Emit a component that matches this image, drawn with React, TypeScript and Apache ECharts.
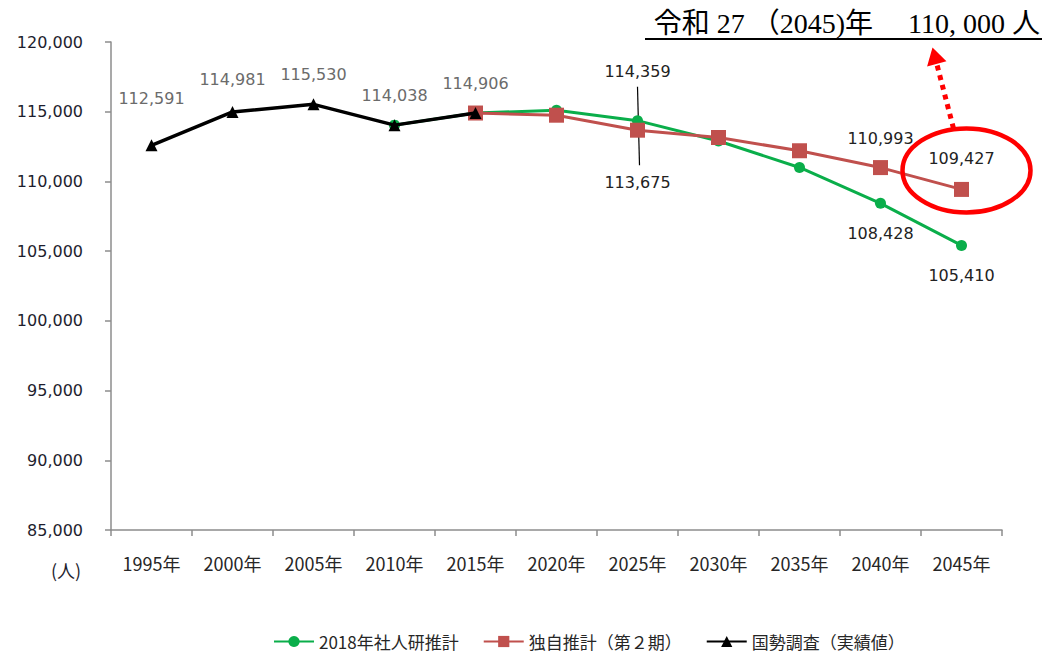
import React, { useEffect, useRef } from "react";
import * as echarts from "echarts";

const years = ["1995年", "2000年", "2005年", "2010年", "2015年", "2020年", "2025年", "2030年", "2035年", "2040年", "2045年"];
const censusValues: (number | null)[] = [112591, 114981, 115530, 114038, 114906, null, null, null, null, null, null];
const ipssValues: (number | null)[] = [null, null, null, 114038, 114906, 115100, 114359, 112900, 111000, 108428, 105410];
const ownValues: (number | null)[] = [null, null, null, null, 114906, 114750, 113675, 113150, 112200, 110993, 109427];

const yTicks = { min: 85000, max: 120000, interval: 5000 };
const targetText = "令和 27 （2045)年　 110, 000 人";

const GREEN = "#0aae4a";
const RED = "#c0504d";
const BLACK = "#000000";
const LABEL_FONT = "'DejaVu Sans', Verdana, sans-serif";
const CJK_FONT = "'Noto Sans CJK JP', 'DejaVu Sans', sans-serif";

const fmt = (v: number) => v.toLocaleString("en-US");

type LabelSpec = { pos: "top" | "bottom"; dist: number; color: string };

function buildData(values: (number | null)[], labels: Record<number, LabelSpec>) {
  return values.map((v, i) => {
    if (v === null) return null;
    const spec = labels[i];
    if (!spec) return { value: v, label: { show: false } };
    return {
      value: v,
      label: {
        show: true,
        position: spec.pos,
        distance: spec.dist,
        color: spec.color,
        fontSize: 16,
        fontFamily: LABEL_FONT,
        formatter: (p: any) => fmt(p.value),
      },
    };
  });
}

export default function App() {
  const ref = useRef<HTMLDivElement>(null);
  useEffect(() => {
    if (!ref.current) return;
    const chart = echarts.init(ref.current, undefined, { renderer: "svg" });
    const gray = "#6b6b6b";
    const dark = "#222222";
    const censusData = buildData(censusValues, {
      0: { pos: "top", dist: 33, color: gray },
      1: { pos: "top", dist: 18, color: gray },
      2: { pos: "top", dist: 16, color: gray },
      3: { pos: "top", dist: 16, color: gray },
      4: { pos: "top", dist: 16, color: gray },
    });
    const ipssData = buildData(ipssValues, {
      6: { pos: "top", dist: 36, color: dark },
      9: { pos: "bottom", dist: 17, color: dark },
      10: { pos: "bottom", dist: 17, color: dark },
    });
    const ownData = buildData(ownValues, {
      6: { pos: "bottom", dist: 37, color: dark },
      9: { pos: "top", dist: 14, color: dark },
      10: { pos: "top", dist: 15, color: dark },
    });

    chart.setOption({
      animation: false,
      backgroundColor: "#ffffff",
      grid: { left: 111, right: 47, top: 42, bottom: 125, containLabel: false },
      legend: {
        left: 273,
        top: 633,
        padding: 0,
        itemWidth: 40,
        itemHeight: 14,
        itemGap: 24,
        textStyle: { color: "#262626", fontSize: 17, fontFamily: CJK_FONT },
        data: ["2018年社人研推計", "独自推計（第２期）", "国勢調査（実績値）"],
      },
      xAxis: {
        type: "category",
        data: years,
        boundaryGap: true,
        axisLine: { show: true, lineStyle: { color: "#8c8c8c", width: 1.5 } },
        axisTick: { show: true, length: 6, lineStyle: { color: "#8c8c8c", width: 1.5 } },
        axisLabel: { color: "#262626", fontSize: 18, fontFamily: CJK_FONT, margin: 24 },
        splitLine: { show: false },
      },
      yAxis: {
        type: "value",
        min: yTicks.min,
        max: yTicks.max,
        interval: yTicks.interval,
        axisLine: { show: true, lineStyle: { color: "#8c8c8c", width: 1.5 } },
        axisTick: { show: true, length: 6, lineStyle: { color: "#8c8c8c", width: 1.5 } },
        axisLabel: {
          color: "#1e1e2e",
          fontSize: 16,
          fontFamily: LABEL_FONT,
          margin: 28,
          formatter: (v: number) => fmt(v),
        },
        splitLine: { show: false },
      },
      series: [
        {
          name: "2018年社人研推計",
          type: "line",
          data: ipssData,
          connectNulls: false,
          symbol: "circle",
          symbolSize: 11,
          lineStyle: { color: GREEN, width: 3 },
          itemStyle: { color: GREEN },
          z: 2,
        },
        {
          name: "独自推計（第２期）",
          type: "line",
          data: ownData,
          symbol: "rect",
          symbolSize: 15,
          lineStyle: { color: RED, width: 3 },
          itemStyle: { color: RED },
          z: 3,
        },
        {
          name: "国勢調査（実績値）",
          type: "line",
          data: censusData,
          symbol: "triangle",
          symbolSize: 12,
          lineStyle: { color: BLACK, width: 3.5 },
          itemStyle: { color: BLACK },
          z: 4,
        },
      ],
    });

    const g25 = chart.convertToPixel({ gridIndex: 0 }, [6, ipssValues[6] as number]) as number[];
    const r25 = chart.convertToPixel({ gridIndex: 0 }, [6, ownValues[6] as number]) as number[];
    const r45 = chart.convertToPixel({ gridIndex: 0 }, [10, ownValues[10] as number]) as number[];

    const cx = r45[0] + 5;
    const cy = r45[1] - 19;
    const tail = [r45[0] - 8, r45[1] - 61];
    const tip = [r45[0] - 29, r45[1] - 142];
    const dx = tip[0] - tail[0];
    const dy = tip[1] - tail[1];
    const len = Math.sqrt(dx * dx + dy * dy);
    const ux = dx / len;
    const uy = dy / len;
    const nx = -uy;
    const ny = ux;
    const headLen = 17;
    const headHalf = 10;
    const base = [tip[0] - headLen * ux, tip[1] - headLen * uy];

    chart.setOption({
      graphic: [
        {
          type: "line",
          shape: { x1: g25[0], y1: g25[1] - 34, x2: r25[0] + 2, y2: r25[1] + 35 },
          style: { stroke: "#000", lineWidth: 1.2 },
          z: 1,
        },
        {
          type: "ellipse",
          shape: { cx, cy, rx: 64, ry: 42 },
          style: { fill: "none", stroke: "#ff0000", lineWidth: 4.5 },
          z: 10,
        },
        {
          type: "line",
          shape: { x1: tail[0], y1: tail[1], x2: base[0], y2: base[1] },
          style: { stroke: "#ff0000", lineWidth: 5, lineDash: [5, 5] },
          z: 10,
        },
        {
          type: "polygon",
          shape: {
            points: [
              tip,
              [base[0] + headHalf * nx, base[1] + headHalf * ny],
              [base[0] - headHalf * nx, base[1] - headHalf * ny],
            ],
          },
          style: { fill: "#ff0000" },
          z: 10,
        },
        {
          type: "text",
          x: 1040,
          y: 23,
          style: {
            text: targetText,
            fill: "#000",
            fontSize: 28,
            fontFamily: "'Liberation Serif', 'Noto Sans CJK JP', serif",
            align: "right",
            verticalAlign: "middle",
          },
          z: 10,
        },
        {
          type: "line",
          shape: { x1: 645, y1: 39, x2: 1042, y2: 39 },
          style: { stroke: "#000", lineWidth: 2 },
          z: 10,
        },
        {
          type: "text",
          x: 66,
          y: 570,
          style: {
            text: "(人)",
            fill: "#1e1e2e",
            fontSize: 18,
            fontFamily: CJK_FONT,
            align: "center",
            verticalAlign: "middle",
          },
        },
      ],
    });

    return () => chart.dispose();
  }, []);

  return (
    <div
      ref={ref}
      style={{ position: "fixed", left: 0, top: 0, width: 1049, height: 655, background: "#fff" }}
    />
  );
}
